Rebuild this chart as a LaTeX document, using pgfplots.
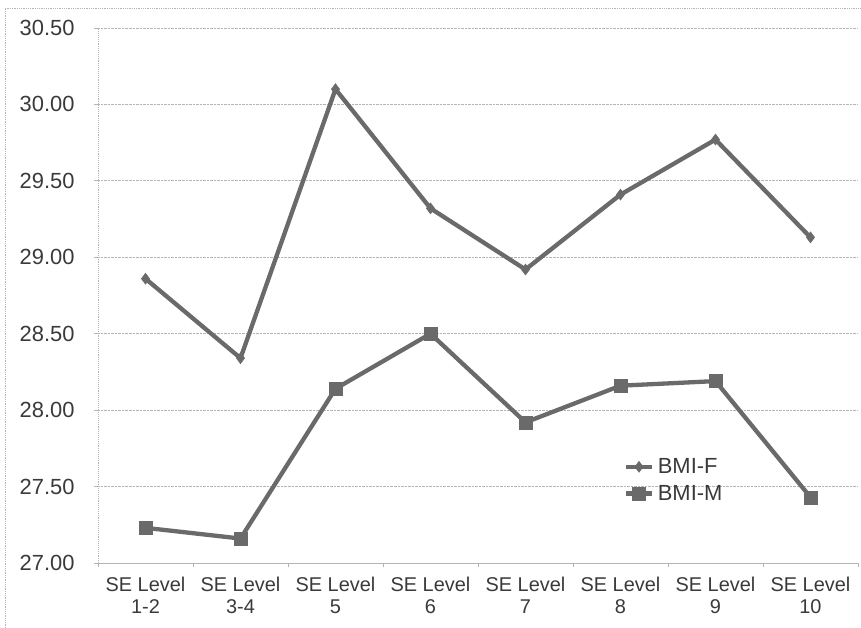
\documentclass[border=0pt]{standalone}
\usepackage{pgfplots}
\pgfplotsset{compat=1.18}
\usepackage{fontspec}
\setmainfont{Liberation Sans}
\definecolor{lineg}{HTML}{6A6A6A}
\definecolor{gridg}{HTML}{B4B4B4}
\definecolor{textg}{HTML}{3A3A3A}
\begin{document}
\begin{tikzpicture}
\useasboundingbox (0bp,0bp) rectangle (861bp,628bp);
\draw[gridg, densely dotted, line width=0.8bp] (5bp,0bp) -- (5bp,620bp) -- (861bp,620bp);
\begin{axis}[
  at={(98bp,65bp)}, anchor=south west,
  scale only axis, width=760bp, height=535bp,
  xmin=-0.5, xmax=7.5, ymin=27, ymax=30.5,
  xtick={0,...,7},
  xticklabels={{SE Level\\1-2},{SE Level\\3-4},{SE Level\\5},{SE Level\\6},{SE Level\\7},{SE Level\\8},{SE Level\\9},{SE Level\\10}},
  minor xtick={-0.5,0.5,...,7.5},
  major x tick style={draw=none},
  minor x tick style={gridg, line width=0.8bp},
  ytick={27,27.5,...,30.5},
  y tick style={gridg, line width=0.8bp},
  tick align=outside, tick pos=left,
  major tick length=4bp, minor tick length=4bp,
  ymajorgrids=true,
  y grid style={gridg, densely dotted, line width=0.8bp},
  axis x line*=bottom, axis y line*=left,
  x axis line style={gridg, line width=0.9bp, -},
  y axis line style={gridg, densely dotted, line width=0.9bp, -},
  /pgf/number format/assume math mode=true,
  y tick label style={/pgf/number format/fixed, /pgf/number format/fixed zerofill, /pgf/number format/precision=2, font=\fontsize{22}{24}\selectfont, text=textg, xshift=-16bp},
  x tick label style={align=center, font=\fontsize{20}{22}\selectfont, text=textg, yshift=-7bp},
  legend style={at={(0.688,0.155)}, anchor=west, draw=none, fill=none,
    font=\fontsize{22}{24}\selectfont, text=textg, row sep=6bp,
    /tikz/every odd column/.append style={column sep=2bp}},
  legend cell align=left,
  legend image code/.code={\draw[#1, line width=4.3bp, mark repeat=2, mark phase=2] plot coordinates {(0cm,0cm) (0.45cm,0cm) (0.9cm,0cm)};},
]
\addplot[lineg, line width=4.3bp, mark=diamond*, mark size=5.5bp, mark options={fill=lineg, draw=lineg, line width=0.5bp}]
  coordinates {(0,28.86) (1,28.34) (2,30.10) (3,29.32) (4,28.92) (5,29.41) (6,29.77) (7,29.13)};
\addlegendentry{BMI-F}
\addplot[lineg, line width=4.3bp, mark=square*, mark size=6.5bp, mark options={fill=lineg, draw=lineg, line width=0.5bp}]
  coordinates {(0,27.23) (1,27.16) (2,28.14) (3,28.50) (4,27.92) (5,28.16) (6,28.19) (7,27.43)};
\addlegendentry{BMI-M}
\end{axis}
\end{tikzpicture}
\end{document}
